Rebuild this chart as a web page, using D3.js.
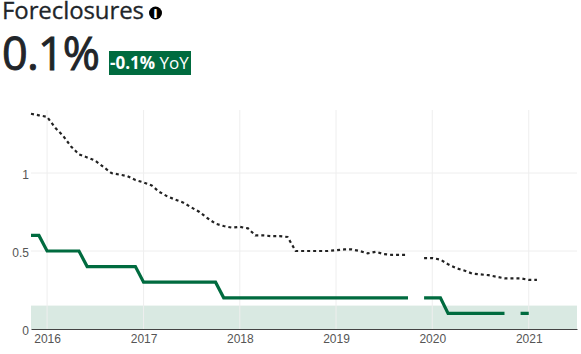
<!DOCTYPE html>
<html>
<head>
<meta charset="utf-8">
<script src="https://cdn.jsdelivr.net/npm/d3@7"></script>
<style>
  html, body { margin: 0; padding: 0; background: #fff; }
  svg { display: block; font-family: "Open Sans", sans-serif; }
  .tick text { font-size: 12px; fill: #555; }
</style>
</head>
<body>
<div id="chart"></div>
<script>
// monthly, Nov 2015 to Feb 2021
const startMonth = [2015, 10];
const foreclosures = [
  0.6, 0.6,
  0.5, 0.5, 0.5, 0.5, 0.5, 0.4, 0.4, 0.4, 0.4, 0.4, 0.4, 0.4,
  0.3, 0.3, 0.3, 0.3, 0.3, 0.3, 0.3, 0.3, 0.3, 0.3, 0.2, 0.2,
  0.2, 0.2, 0.2, 0.2, 0.2, 0.2, 0.2, 0.2, 0.2, 0.2, 0.2, 0.2,
  0.2, 0.2, 0.2, 0.2, 0.2, 0.2, 0.2, 0.2, 0.2, 0.2, null, 0.2,
  0.2, 0.2, 0.1, 0.1, 0.1, 0.1, 0.1, 0.1, 0.1, 0.1, null, 0.1,
  0.1, null
];
const comparison = [
  1.38, 1.37,
  1.36, 1.29, 1.24, 1.17, 1.12, 1.10, 1.08, 1.04, 1.00, 0.99, 0.98, 0.955,
  0.94, 0.92, 0.88, 0.85, 0.83, 0.81, 0.78, 0.75, 0.71, 0.675, 0.66, 0.65,
  0.655, 0.645, 0.60, 0.60, 0.595, 0.595, 0.59, 0.50, 0.50, 0.50, 0.50, 0.50,
  0.505, 0.51, 0.51, 0.50, 0.485, 0.495, 0.48, 0.475, 0.475, 0.475, null, 0.455,
  0.455, 0.445, 0.415, 0.39, 0.375, 0.355, 0.35, 0.345, 0.335, 0.325, 0.325, 0.325,
  0.315, 0.315
];
const targetBand = [0, 0.15];
const yTicks = [0, 0.5, 1];
const yearTicks = [2016, 2017, 2018, 2019, 2020, 2021];

const width = 581, height = 354;
const margin = { top: 110, right: 4, bottom: 25, left: 31 };
const green = '#006b3f';

const months = foreclosures.map((d, i) => new Date(startMonth[0], startMonth[1] + i, 1));

const svg = d3.select('#chart').append('svg')
  .attr('width', width)
  .attr('height', height);

const x = d3.scaleTime()
  .domain([new Date(2015, 10, 1), new Date(2021, 6, 3)])
  .range([margin.left, width - margin.right]);
const y = d3.scaleLinear()
  .domain([0, 1.404])
  .range([height - margin.bottom, margin.top]);

// Header
svg.append('text')
  .attr('x', 2).attr('y', 18.5)
  .attr('font-size', 24)
  .attr('fill', '#212529')
  .attr('stroke', '#212529')
  .attr('stroke-width', 0.3)
  .attr('textLength', 142)
  .text('Foreclosures');

svg.append('circle')
  .attr('cx', 155.5).attr('cy', 13).attr('r', 6.5)
  .attr('fill', '#000');
svg.append('text')
  .attr('x', 155.5).attr('y', 17.5)
  .attr('text-anchor', 'middle')
  .attr('font-size', 12)
  .attr('font-weight', 800)
  .attr('fill', '#fff')
  .text('i');

svg.append('text')
  .attr('x', 2).attr('y', 70)
  .attr('font-size', 45)
  .attr('fill', '#212529')
  .attr('stroke', '#212529')
  .attr('stroke-width', 0.9)
  .attr('textLength', 98)
  .text('0.1%');

svg.append('rect')
  .attr('x', 109).attr('y', 51)
  .attr('width', 82).attr('height', 24)
  .attr('fill', green);
const badge = svg.append('text')
  .attr('x', 110).attr('y', 69)
  .attr('font-size', 17)
  .attr('fill', '#fff');
badge.append('tspan').attr('font-weight', 700).text('-0.1%');
badge.append('tspan').text(' YoY');

// Target band sits under the grid
svg.append('rect')
  .attr('x', margin.left)
  .attr('y', y(targetBand[1]))
  .attr('width', width - margin.left - margin.right)
  .attr('height', y(targetBand[0]) - y(targetBand[1]))
  .attr('fill', green)
  .attr('opacity', 0.15);

// Grid
svg.append('g')
  .selectAll('line')
  .data(yTicks.filter(d => d > 0))
  .enter()
  .append('line')
  .attr('x1', margin.left)
  .attr('x2', width - margin.right)
  .attr('y1', d => y(d))
  .attr('y2', d => y(d))
  .attr('stroke', '#eee');

svg.append('g')
  .selectAll('line')
  .data(yearTicks)
  .enter()
  .append('line')
  .attr('x1', d => x(new Date(d, 0, 1)))
  .attr('x2', d => x(new Date(d, 0, 1)))
  .attr('y1', margin.top)
  .attr('y2', height - margin.bottom)
  .attr('stroke', '#eee');

// Axes
const xAxis = d3.axisBottom(x)
  .tickValues(yearTicks.map(d => new Date(d, 0, 1)))
  .tickFormat(d3.timeFormat('%Y'))
  .tickSize(0)
  .tickPadding(5);
const yAxis = d3.axisLeft(y)
  .tickValues(yTicks)
  .tickFormat(d3.format('~g'))
  .tickSize(0)
  .tickPadding(2);

const xAxisG = svg.append('g')
  .attr('transform', `translate(0,${height - margin.bottom})`)
  .call(xAxis);
xAxisG.select('.domain').attr('stroke', '#444');

const yAxisG = svg.append('g')
  .attr('transform', `translate(${margin.left},0)`)
  .call(yAxis);
yAxisG.select('.domain').remove();
yAxisG.selectAll('text').attr('dy', '0.45em');

// Lines
const line = d3.line()
  .defined(d => d.value !== null)
  .x(d => x(d.date))
  .y(d => y(d.value));

svg.append('path')
  .datum(comparison.map((value, i) => ({ date: months[i], value })))
  .attr('fill', 'none')
  .attr('stroke', '#222')
  .attr('stroke-width', 2.2)
  .attr('stroke-dasharray', '3,3')
  .attr('d', line);

svg.append('path')
  .datum(foreclosures.map((value, i) => ({ date: months[i], value })))
  .attr('fill', 'none')
  .attr('stroke', green)
  .attr('stroke-width', 3.2)
  .attr('d', line);
</script>
</body>
</html>
